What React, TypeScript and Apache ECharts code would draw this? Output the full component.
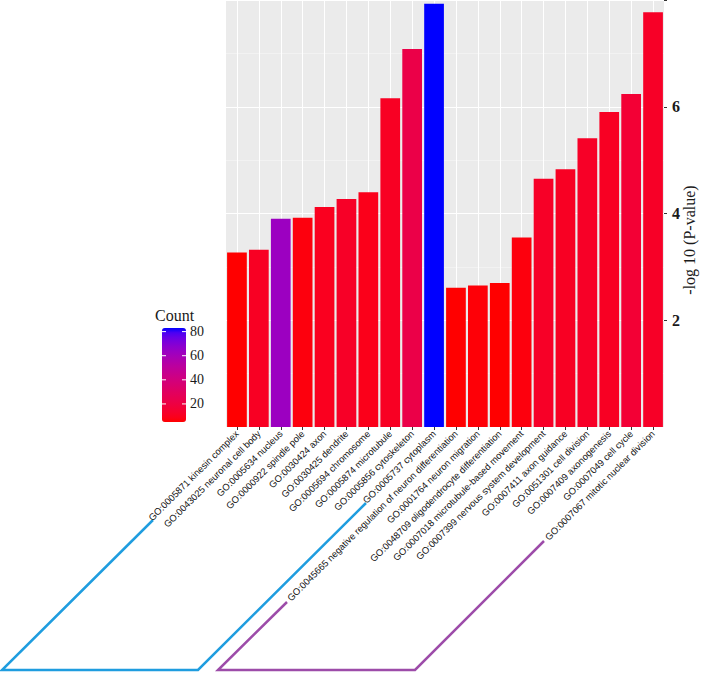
import React, { useEffect, useRef } from "react";
import * as echarts from "echarts";

const categories = [
  "GO:0005871 kinesin complex",
  "GO:0043025 neuronal cell body",
  "GO:0005634 nucleus",
  "GO:0000922 spindle pole",
  "GO:0030424 axon",
  "GO:0030425 dendrite",
  "GO:0005694 chromosome",
  "GO:0005874 microtubule",
  "GO:0005856 cytoskeleton",
  "GO:0005737 cytoplasm",
  "GO:0045665 negative regulation of neuron differentiation",
  "GO:0001764 neuron migration",
  "GO:0048709 oligodendrocyte differentiation",
  "GO:0007018 microtubule-based movement",
  "GO:0007399 nervous system development",
  "GO:0007411 axon guidance",
  "GO:0051301 cell division",
  "GO:0007409 axonogenesis",
  "GO:0007049 cell cycle",
  "GO:0007067 mitotic nuclear division",
];

const logP = [
  3.27, 3.32, 3.9, 3.92, 4.12, 4.27, 4.4, 6.16, 7.08, 7.93,
  2.61, 2.65, 2.7, 3.55, 4.65, 4.83, 5.41, 5.9, 6.24, 7.77,
];

const counts = [
  5, 11, 63, 7, 10, 12, 9, 11, 22, 83,
  5, 6, 5, 7, 12, 11, 12, 11, 16, 12,
];

const yTicks = [2, 4, 6];
const legendTicks = [20, 40, 60, 80];

// Lab interpolation (like ggplot2 scale_fill_gradient low="red", high="blue")
const LAB_LOW = [53.24, 80.09, 67.2];
const LAB_HIGH = [32.3, 79.19, -107.86];

function lab2hex(L: number, a: number, b: number): string {
  let y = (L + 16) / 116;
  let x = a / 500 + y;
  let z = y - b / 200;
  const f = (t: number) => (t * t * t > 0.008856 ? t * t * t : (t - 16 / 116) / 7.787);
  x = 0.95047 * f(x);
  y = 1.0 * f(y);
  z = 1.08883 * f(z);
  let r = x * 3.2406 + y * -1.5372 + z * -0.4986;
  let g = x * -0.9689 + y * 1.8758 + z * 0.0415;
  let bb = x * 0.0557 + y * -0.204 + z * 1.057;
  const gam = (c: number) => {
    const v = c > 0.0031308 ? 1.055 * Math.pow(c, 1 / 2.4) - 0.055 : 12.92 * c;
    return Math.round(Math.max(0, Math.min(1, v)) * 255);
  };
  const h = (n: number) => n.toString(16).padStart(2, "0");
  return "#" + h(gam(r)) + h(gam(g)) + h(gam(bb));
}

const gradientStops: string[] = [];
for (let i = 0; i <= 20; i++) {
  const t = i / 20;
  gradientStops.push(
    lab2hex(
      LAB_LOW[0] + (LAB_HIGH[0] - LAB_LOW[0]) * t,
      LAB_LOW[1] + (LAB_HIGH[1] - LAB_LOW[1]) * t,
      LAB_LOW[2] + (LAB_HIGH[2] - LAB_LOW[2]) * t
    )
  );
}

export default function App() {
  const ref = useRef<HTMLDivElement>(null);

  useEffect(() => {
    if (!ref.current) return;
    const chart = echarts.init(ref.current, undefined, { renderer: "svg" });

    const cMin = Math.min(...counts);
    const cMax = Math.max(...counts);

    // legend geometry
    const lgLeft = 162;
    const lgTop = 328;
    const lgW = 24;
    const lgH = 94;
    const lgY = (v: number) => lgTop + ((cMax - v) / (cMax - cMin)) * lgH;

    const serif = "'Liberation Serif', 'DejaVu Serif', serif";
    const sans = "'Liberation Sans', Arial, sans-serif";

    const graphics: any[] = [
      {
        type: "text",
        left: 155,
        top: 307,
        style: { text: "Count", font: `16px ${serif}`, fill: "#1a1a1a" },
      },
    ];
    legendTicks.forEach((v) => {
      const y = lgY(v);
      graphics.push({
        type: "text",
        x: lgLeft + lgW + 4,
        y,
        style: {
          text: String(v),
          font: `14px ${serif}`,
          fill: "#1a1a1a",
          verticalAlign: "middle",
          textAlign: "left",
        },
        z: 20,
      });
      graphics.push({
        type: "line",
        shape: { x1: lgLeft, y1: y, x2: lgLeft + 4, y2: y },
        style: { stroke: "#ffffff", lineWidth: 1 },
        z: 20,
      });
      graphics.push({
        type: "line",
        shape: { x1: lgLeft + lgW - 4, y1: y, x2: lgLeft + lgW, y2: y },
        style: { stroke: "#ffffff", lineWidth: 1 },
        z: 20,
      });
    });
    graphics.push({
      type: "text",
      x: 689,
      y: 240,
      rotation: Math.PI / 2,
      style: {
        text: "-log 10 (P-value)",
        font: `16px ${serif}`,
        fill: "#1a1a1a",
        textAlign: "center",
        verticalAlign: "middle",
      },
    });
    // brackets grouping categories
    graphics.push({
      type: "polyline",
      shape: { points: [[153, 520], [2, 670], [198, 670], [366, 503]] },
      style: { stroke: "#1f9ddf", lineWidth: 2.5, fill: "none" },
    });
    graphics.push({
      type: "polyline",
      shape: { points: [[287, 602], [218, 670], [415, 670], [544, 541]] },
      style: { stroke: "#9d4ca9", lineWidth: 2.5, fill: "none" },
    });

    chart.setOption({
      animation: false,
      backgroundColor: "#ffffff",
      grid: {
        left: 226,
        width: 438,
        top: -2,
        height: 429,
        show: true,
        backgroundColor: "#EBEBEB",
        borderWidth: 0,
      },
      xAxis: {
        type: "category",
        data: categories,
        axisLine: { show: false },
        axisTick: { show: true, alignWithLabel: true, length: 3, lineStyle: { color: "#333" } },
        splitLine: { show: true, alignWithLabel: true, lineStyle: { color: "#ffffff", width: 1 } },
        axisLabel: {
          interval: 0,
          rotate: 45,
          margin: 5,
          fontSize: 9.4,
          fontFamily: sans,
          color: "#111",
        },
      },
      yAxis: {
        type: "value",
        position: "right",
        min: 0,
        max: 8,
        interval: 2,
        axisLine: { show: false },
        axisTick: { show: true, length: 3, lineStyle: { color: "#333" } },
        axisLabel: {
          margin: 8,
          fontSize: 16,
          fontWeight: "bold",
          fontFamily: serif,
          color: "#1a1a1a",
          showMinLabel: false,
          formatter: (v: number) => (yTicks.includes(v) ? String(v) : ""),
        },
        splitLine: { show: true, lineStyle: { color: "#ffffff", width: 1.1 } },
        minorTick: { show: false, splitNumber: 2 },
        minorSplitLine: { show: true, lineStyle: { color: "#f6f6f6", width: 0.6 } },
      },
      visualMap: {
        type: "continuous",
        show: true,
        dimension: 2,
        min: cMin,
        max: cMax,
        left: lgLeft,
        top: lgTop,
        itemWidth: lgW,
        itemHeight: lgH,
        padding: 0,
        calculable: false,
        hoverLink: false,
        text: ["", ""],
        showLabel: false,
        inRange: { color: gradientStops },
        seriesIndex: 0,
      },
      series: [
        {
          type: "bar",
          barCategoryGap: "10%",
          encode: { x: 0, y: 1 },
          data: categories.map((c, i) => [c, logP[i], counts[i]]),
        },
      ],
      graphic: graphics,
    });

    return () => chart.dispose();
  }, []);

  return (
    <div
      ref={ref}
      style={{ position: "absolute", left: 0, top: 0, width: 708, height: 674 }}
    />
  );
}
